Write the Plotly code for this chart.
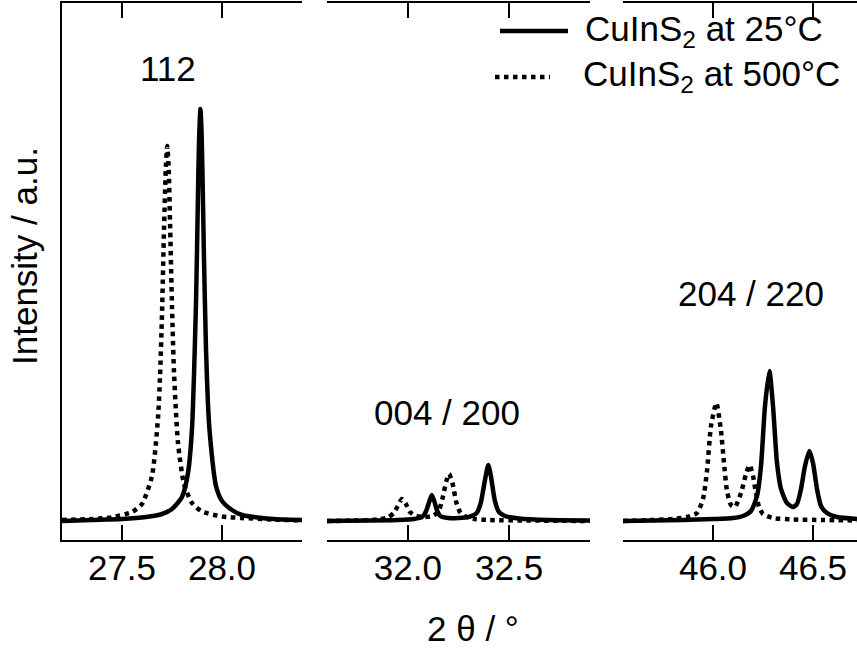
import plotly.graph_objects as go

# ---------------- data ----------------
# panel 1 : 112 reflection
p1_x_25 = [27.20, 27.35, 27.50, 27.62, 27.70, 27.75, 27.80, 27.83, 27.85, 27.86, 27.87, 27.875,
           27.88, 27.885, 27.892, 27.898, 27.905, 27.91, 27.92, 27.93, 27.94, 27.97, 28.00, 28.05,
           28.10, 28.20, 28.30, 28.40]
p1_y_25 = [0, 1, 2, 4, 7, 12, 24, 48, 92, 146, 218, 270,
           328, 378, 412, 388, 318, 262, 172, 116, 85, 35, 20, 11,
           6, 3, 1.5, 1]
p1_x_500 = [27.20, 27.35, 27.45, 27.55, 27.60, 27.65, 27.68, 27.69, 27.70, 27.71, 27.72, 27.726,
            27.733, 27.74, 27.75, 27.76, 27.78, 27.81, 27.85, 27.90, 28.00, 28.10, 28.25, 28.40]
p1_y_500 = [1, 2, 3.7, 9, 17, 45, 103, 144, 207, 291, 358, 375,
            355, 300, 215, 149, 78, 37, 18, 9.5, 4.5, 3, 1.5, 0.5]

# panel 2 : 004 / 200 reflections
p2_x_25 = [31.60, 31.80, 31.95, 32.03, 32.07, 32.09, 32.105, 32.118, 32.13, 32.145, 32.16, 32.20,
           32.25, 32.30, 32.34, 32.36, 32.38, 32.397, 32.41, 32.43, 32.45, 32.48, 32.55, 32.70, 32.90]
p2_y_25 = [0, 0.5, 1, 2, 4, 10, 19, 26, 20, 10, 5, 3,
           3, 4, 8, 18, 40, 56, 45, 20, 9, 5, 2.5, 1, 0.5]
p2_x_500 = [31.60, 31.75, 31.85, 31.90, 31.93, 31.95, 31.97, 31.99, 32.01, 32.04, 32.08, 32.12,
            32.15, 32.17, 32.19, 32.203, 32.22, 32.24, 32.26, 32.29, 32.33, 32.40, 32.60, 32.90]
p2_y_500 = [0, 0.5, 1.5, 3.5, 8, 15, 22, 17, 9, 5, 4, 5,
            9, 22, 40, 47, 38, 18, 8, 4, 2, 1, 0.5, 0]

# panel 3 : 204 / 220 reflections
p3_x_25 = [45.55, 45.70, 45.85, 46.00, 46.10, 46.15, 46.19, 46.22, 46.24, 46.26, 46.282, 46.30,
           46.32, 46.34, 46.37, 46.40, 46.42, 46.44, 46.46, 46.482, 46.50, 46.52, 46.54, 46.57,
           46.62, 46.72]
p3_y_25 = [0, 0.5, 1, 2, 3, 5, 10, 25, 55, 115, 150, 115,
           58, 32, 18, 14, 17, 32, 55, 70, 58, 32, 15, 8,
           4, 2]
p3_x_500 = [45.55, 45.70, 45.80, 45.87, 45.92, 45.95, 45.97, 45.99, 46.017, 46.04, 46.055, 46.07,
            46.09, 46.11, 46.14, 46.165, 46.183, 46.20, 46.215, 46.23, 46.25, 46.30, 46.40, 46.55,
            46.72]
p3_y_500 = [0, 1, 2, 4, 8, 22, 50, 95, 118, 90, 58, 30,
            16, 14, 28, 47, 56, 45, 28, 14, 7, 3, 1.5, 1,
            0.5]

panel_ranges = [[27.2, 28.4], [31.6, 32.9], [45.55, 46.72]]
panel_ticks = [[27.5, 28.0], [32.0, 32.5], [46.0, 46.5]]
panel_ticktext = [["27.5", "28.0"], ["32.0", "32.5"], ["46.0", "46.5"]]
peak_labels = ["112", "004 / 200", "204 / 220"]
series_names = ["CuInS<sub>2</sub> at 25°C", "CuInS<sub>2</sub> at 500°C"]
y_range = [-19, 518]

# ---------------- layout helpers ----------------
W, H = 857, 651
TOP, BOT = 3, 540


def px(x):
    return x / W


def py(y):
    return (BOT - y) / (BOT - TOP)


FONT = "Liberation Sans, Arial, Helvetica, sans-serif"
FS = 35
LW = 4.5

fig = go.Figure()

panels = [
    (p1_x_25, p1_y_25, p1_x_500, p1_y_500),
    (p2_x_25, p2_y_25, p2_x_500, p2_y_500),
    (p3_x_25, p3_y_25, p3_x_500, p3_y_500),
]
axis_ids = ["x", "x2", "x3"]
for i, (xa, ya, xb, yb) in enumerate(panels):
    fig.add_trace(go.Scatter(x=xa, y=ya, mode="lines", xaxis=axis_ids[i], yaxis="y",
                             line=dict(color="black", width=LW, shape="spline", smoothing=0.6),
                             name=series_names[0], showlegend=False, hoverinfo="skip"))
    fig.add_trace(go.Scatter(x=xb, y=yb, mode="lines", xaxis=axis_ids[i], yaxis="y",
                             line=dict(color="black", width=LW, dash="dot", shape="spline",
                                       smoothing=0.6),
                             name=series_names[1], showlegend=False, hoverinfo="skip"))

domains = [[px(62), px(302)], [px(327), px(590)], [px(623), 1.0]]


def xaxis_cfg(i):
    return dict(domain=domains[i], range=panel_ranges[i], anchor="y",
                showline=True, linecolor="black", linewidth=2, mirror="ticks",
                ticks="inside", ticklen=15, tickwidth=2, tickcolor="black",
                tickvals=panel_ticks[i], ticktext=panel_ticktext[i],
                tickfont=dict(family=FONT, size=FS, color="black"),
                ticklabelstandoff=-4,
                showgrid=False, zeroline=False, fixedrange=True)


annotations = []
label_pos = [(168, 68), (447, 412), (751, 293)]
for (lx, ly), t in zip(label_pos, peak_labels):
    annotations.append(dict(x=px(lx), y=py(ly), xref="paper", yref="paper", text=t,
                            showarrow=False, xanchor="center", yanchor="middle",
                            font=dict(family=FONT, size=FS, color="black")))
annotations.append(dict(x=px(24), y=py(256), xref="paper", yref="paper",
                        text="Intensity / a.u.", textangle=-90, showarrow=False,
                        xanchor="center", yanchor="middle",
                        font=dict(family=FONT, size=FS, color="black")))
annotations.append(dict(x=px(473), y=py(628), xref="paper", yref="paper",
                        text="2 θ / °", showarrow=False, xanchor="center", yanchor="middle",
                        font=dict(family=FONT, size=FS, color="black")))
# legend (text)
annotations.append(dict(x=px(583), y=py(31), xref="paper", yref="paper", text=series_names[0],
                        showarrow=False, xanchor="left", yanchor="middle",
                        font=dict(family=FONT, size=FS, color="black")))
annotations.append(dict(x=px(581), y=py(76), xref="paper", yref="paper", text=series_names[1],
                        showarrow=False, xanchor="left", yanchor="middle",
                        font=dict(family=FONT, size=FS, color="black")))

shapes = [
    dict(type="line", xref="paper", yref="paper", x0=px(500), x1=px(568), y0=py(31), y1=py(31),
         line=dict(color="black", width=LW)),
    dict(type="line", xref="paper", yref="paper", x0=px(495), x1=px(550), y0=py(77), y1=py(77),
         line=dict(color="black", width=LW, dash="dot")),
]

fig.update_layout(
    width=W, height=H,
    margin=dict(l=0, r=0, t=TOP, b=H - BOT, pad=0),
    paper_bgcolor="white", plot_bgcolor="white",
    showlegend=False,
    xaxis=xaxis_cfg(0), xaxis2=xaxis_cfg(1), xaxis3=xaxis_cfg(2),
    yaxis=dict(range=y_range, anchor="x", showline=True, linecolor="black", linewidth=2,
               ticks="", showticklabels=False, showgrid=False, zeroline=False, fixedrange=True),
    annotations=annotations,
    shapes=shapes,
    font=dict(family=FONT, size=FS, color="black"),
)

fig.write_html("out.html", config={"displayModeBar": False},
               post_script="document.body.style.margin='0';document.body.style.overflow='hidden';")
